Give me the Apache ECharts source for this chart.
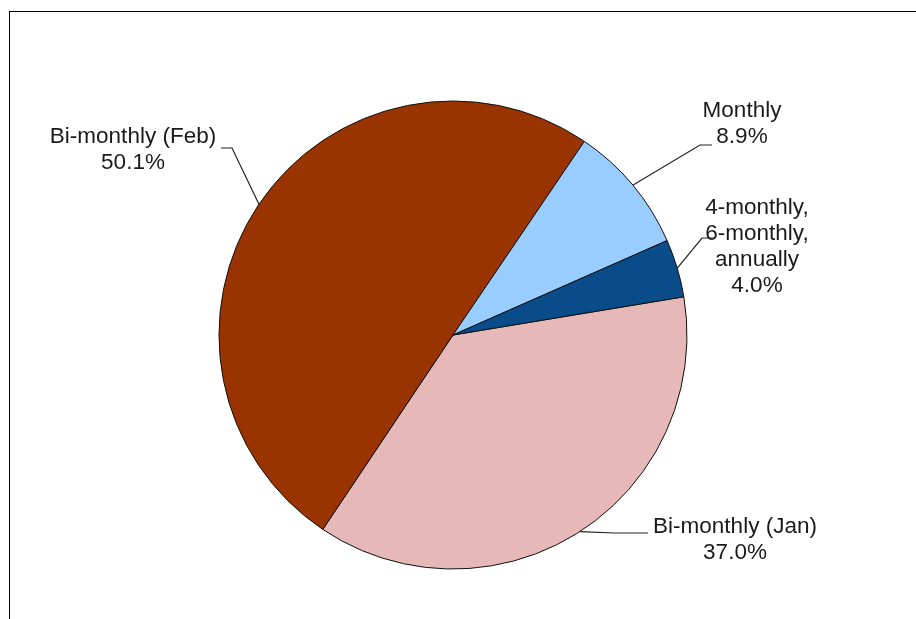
<!DOCTYPE html>
<html>
<head>
<meta charset="utf-8">
<style>
html, body { margin: 0; padding: 0; background: #fff; }
#frame { position: absolute; left: 9px; top: 11px; width: 920px; height: 620px; border-top: 1px solid #000; border-left: 1px solid #000; }
#chart { position: absolute; left: 0; top: 0; width: 916px; height: 619px; }
</style>
</head>
<body>
<div id="frame"></div>
<div id="chart"></div>
<script src="https://cdn.jsdelivr.net/npm/echarts@6/dist/echarts.min.js"></script>
<script>
var categories = ['Bi-monthly (Jan)', 'Bi-monthly (Feb)', 'Monthly', '4-monthly,\n6-monthly,\nannually'];
var shares = [37.0, 50.1, 8.9, 4.0];
var colors = ['#E6B9B8', '#993300', '#99CCFF', '#0A4C8A'];

// where each label sits, and the elbow of its leader line
var labelSpots = [
    { x: 735, y: 540, bend: [614, 533], end: [648, 533] },
    { x: 133, y: 150, bend: [232, 148], end: [221, 148] },
    { x: 742, y: 124, bend: [700, 145], end: [712, 145] },
    { x: 757, y: 247, bend: [702, 238], end: [714, 238] }
];

var pieData = categories.map(function (name, i) {
    return { name: name, value: shares[i], itemStyle: { color: colors[i] } };
});

var myChart = echarts.init(document.getElementById('chart'));
myChart.setOption({
    animation: false,
    series: [{
        type: 'pie',
        center: [453, 335],
        radius: 234,
        startAngle: 9.4,
        clockwise: true,
        avoidLabelOverlap: false,
        data: pieData,
        itemStyle: { borderColor: '#111', borderWidth: 1 },
        label: {
            show: true,
            position: 'outside',
            formatter: function (p) { return p.name + '\n' + p.value.toFixed(1) + '%'; },
            fontFamily: 'Liberation Sans, Arial, sans-serif',
            fontSize: 22.5,
            lineHeight: 26,
            color: '#1a1a1a',
            align: 'center'
        },
        labelLine: { show: true, lineStyle: { color: '#222', width: 1.2 } },
        labelLayout: function (params) {
            var s = labelSpots[params.dataIndex];
            var edge = params.labelLinePoints[0];
            return {
                x: s.x,
                y: s.y,
                align: 'center',
                verticalAlign: 'middle',
                labelLinePoints: [edge, s.bend, s.end]
            };
        },
        emphasis: { disabled: true }
    }]
});
</script>
</body>
</html>
